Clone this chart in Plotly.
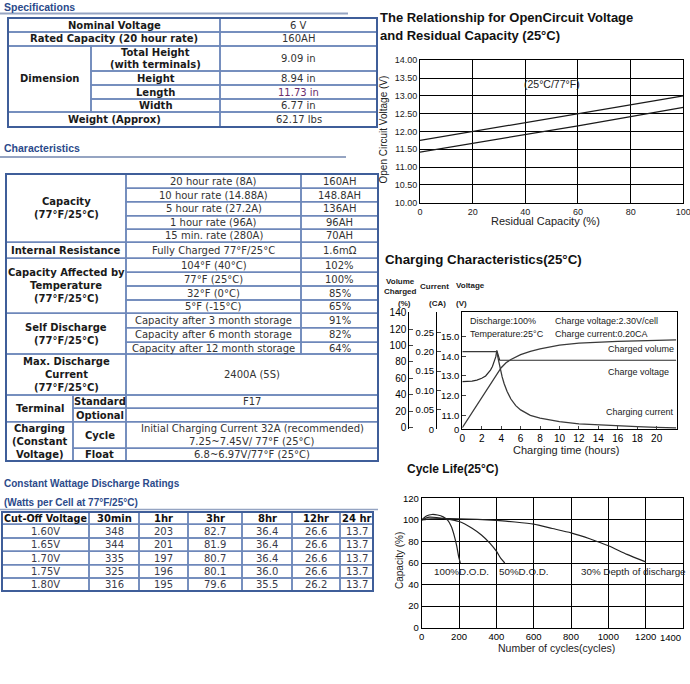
import plotly.graph_objects as go

W, H = 690, 684


def px(x):
    return x / W


def py(y):
    return 1 - y / H


TABLE_FONT = "DejaVu Sans, Verdana, sans-serif"
HEAD_FONT = "Liberation Sans, Arial, sans-serif"
CHART_FONT = "Liberation Sans, Arial, sans-serif"

# ------------------------------------------------------------------ DATA
# Specifications
spec_top_labels = ["Nominal Voltage", "Rated Capacity (20 hour rate)"]
spec_top_values = ["6 V", "160AH"]
dimension_label = "Dimension"
dimension_items = [["Total Height", "(with terminals)"], ["Height"], ["Length"], ["Width"]]
dimension_values = ["9.09 in", "8.94 in", "11.73 in", "6.77 in"]
weight_label = "Weight (Approx)"
weight_value = "62.17 lbs"

# Characteristics
capacity_label = ["Capacity", "(77°F/25°C)"]
capacity_items = ["20 hour rate (8A)", "10 hour rate (14.88A)", "5 hour rate (27.2A)",
                  "1 hour rate (96A)", "15 min. rate (280A)"]
capacity_values = ["160AH", "148.8AH", "136AH", "96AH", "70AH"]
resistance_label = "Internal Resistance"
resistance_item = "Fully Charged 77°F/25°C"
resistance_value = "1.6mΩ"
temperature_label = ["Capacity Affected by", "Temperature", "(77°F/25°C)"]
temperature_items = ["104°F (40°C)", "77°F (25°C)", "32°F (0°C)", "5°F (-15°C)"]
temperature_values = ["102%", "100%", "85%", "65%"]
self_discharge_label = ["Self Discharge", "(77°F/25°C)"]
self_discharge_items = ["Capacity after 3 month storage", "Capacity after 6 month storage",
                        "Capacity after 12 month storage"]
self_discharge_values = ["91%", "82%", "64%"]
max_discharge_label = ["Max. Discharge", "Current", "(77°F/25°C)"]
max_discharge_value = "2400A (5S)"
terminal_label = ["Terminal"]
terminal_items = ["Standard", "Optional"]
terminal_values = [["F17"], []]
charging_label = ["Charging", "(Constant", "Voltage)"]
charging_items = ["Cycle", "Float"]
charging_values = [["Initial Charging Current 32A (recommended)", "7.25~7.45V/ 77°F (25°C)"],
                   ["6.8~6.97V/77°F (25°C)"]]

# Constant wattage discharge ratings (watts per cell)
cw_headers = ["Cut-Off Voltage", "30min", "1hr", "3hr", "8hr", "12hr", "24 hr"]
cw_cutoff = ["1.60V", "1.65V", "1.70V", "1.75V", "1.80V"]
cw_30min = ["348", "344", "335", "325", "316"]
cw_1hr = ["203", "201", "197", "196", "195"]
cw_3hr = ["82.7", "81.9", "80.7", "80.1", "79.6"]
cw_8hr = ["36.4", "36.4", "36.4", "36.0", "35.5"]
cw_12hr = ["26.6", "26.6", "26.6", "26.6", "26.2"]
cw_24hr = ["13.7", "13.7", "13.7", "13.7", "13.7"]

# Open circuit voltage vs residual capacity
ocv_capacity = [0, 20, 40, 60, 80, 100]
ocv_upper = [11.75, 12.0, 12.25, 12.5, 12.75, 13.0]
ocv_lower = [11.42, 11.66, 11.91, 12.16, 12.42, 12.68]

# Charging characteristics
volume_time = [0, 1, 2, 3, 4, 4.5, 5, 6, 7, 8, 9, 10, 12, 14, 16, 18, 20, 22]
volume_pct = [0, 18, 36, 55, 73, 79, 83, 89, 93, 96, 98.5, 100.5, 103, 104.5, 105.2, 105.8, 106.3, 107]
current_time = [0, 3.55, 3.75, 3.9, 4.1, 4.3, 4.6, 5.0, 5.5, 6, 6.5, 7, 8, 9, 10, 12, 14, 16, 18, 20, 22]
current_ca = [0.20, 0.20, 0.175, 0.155, 0.135, 0.118, 0.098, 0.078, 0.061, 0.05, 0.042, 0.036,
              0.029, 0.024, 0.0195, 0.014, 0.011, 0.0085, 0.0068, 0.005, 0.0035]
voltage_time = [0, 0.5, 1, 1.5, 2, 2.4, 2.7, 2.9, 3.1, 3.3, 3.45, 3.55, 3.7, 3.85, 22]
voltage_v = [12.71, 12.72, 12.74, 12.79, 12.88, 13.0, 13.15, 13.3, 13.48, 13.72, 13.98, 14.3, 14.0, 13.8, 13.8]
volt_ticks = [10.29, 11, 12, 13, 14, 15]
volt_ticktext = ["0", "11.0", "12.0", "13.0", "14.0", "15.0"]
ca_ticks = [0, 0.05, 0.10, 0.15, 0.20, 0.25]
ca_ticktext = ["0", "0.05", "0.10", "0.15", "0.20", "0.25"]
vol_ticks = [0, 20, 40, 60, 80, 100, 120, 140]
time_ticks = [0, 2, 4, 6, 8, 10, 12, 14, 16, 18, 20]

# Cycle life
cycle_ticks = [0, 200, 400, 600, 800, 1000, 1200]
cycle_max = 1400
dod100_cycles = [0, 25, 55, 85, 115, 140, 158, 175, 188, 198, 207]
dod100_cap = [100, 103.5, 105, 104.5, 102.8, 99.5, 94, 85, 75.5, 66, 60]
dod50_cycles = [0, 40, 80, 130, 200, 270, 320, 365, 400, 425, 445]
dod50_cap = [100, 102.5, 102.2, 101, 98.5, 92.3, 86, 78.5, 71, 64, 60]
dod30_cycles = [0, 50, 100, 200, 300, 400, 500, 600, 700, 800, 900, 1000, 1100, 1200]
dod30_cap = [100, 101, 101.2, 101, 100.5, 99.5, 98, 96, 92, 88, 82.5, 76, 68, 61]

# ------------------------------------------------------------------ helpers
shapes = []
annotations = []
BORDER = "#6E88BA"
OUTER = "#3F5E99"
TXT = "#333333"
BOLD_TXT = "#1a1a1a"
HEAD_BLUE = "#2B4A8A"


def cell(x0, y0, x1, y1, color=BORDER, width=1.5):
    shapes.append(dict(type="rect", xref="paper", yref="paper",
                       x0=px(x0), x1=px(x1), y0=py(y1), y1=py(y0),
                       line=dict(color=color, width=width)))


def hline(x0, x1, y, color, width):
    shapes.append(dict(type="line", xref="paper", yref="paper",
                       x0=px(x0), x1=px(x1), y0=py(y), y1=py(y),
                       line=dict(color=color, width=width)))


def txt(x, y, s, size=10, color=TXT, bold=False, family=TABLE_FONT, xanchor="center", angle=0):
    if not s:
        return
    annotations.append(dict(x=px(x), y=py(y), xref="paper", yref="paper",
                            text=("<b>%s</b>" % s) if bold else s, showarrow=False,
                            font=dict(family=family, size=size, color=color),
                            xanchor=xanchor, yanchor="middle", textangle=angle))


def lines(x, yc, parts, lh=13, **kw):
    n = len(parts)
    for i, s in enumerate(parts):
        txt(x, yc + (i - (n - 1) / 2) * lh, s, **kw)


# ------------------------------------------------------------------ Specifications table
txt(2, 6.5, "Specifications", size=10.5, color=HEAD_BLUE, bold=True, family=HEAD_FONT, xanchor="left")
hline(0, 348, 13.5, "#95A4C2", 2)

sL, sS, sM, sR = 8, 91, 220, 377
spec_rows = [18, 32, 46, 71, 85, 99, 112, 127]
for i in range(2):
    y0, y1 = spec_rows[i], spec_rows[i + 1]
    cell(sL, y0, sM, y1)
    cell(sM, y0, sR, y1)
    txt((sL + sM) / 2, (y0 + y1) / 2, spec_top_labels[i], bold=True, color=BOLD_TXT)
    txt((sM + sR) / 2, (y0 + y1) / 2, spec_top_values[i])
cell(sL, spec_rows[2], sS, spec_rows[6])
txt((sL + sS) / 2, (spec_rows[2] + spec_rows[6]) / 2, dimension_label, bold=True, color=BOLD_TXT)
for k in range(4):
    y0, y1 = spec_rows[2 + k], spec_rows[3 + k]
    cell(sS, y0, sM, y1)
    cell(sM, y0, sR, y1)
    lines((sS + sM) / 2, (y0 + y1) / 2, dimension_items[k], lh=11.7, bold=True, color=BOLD_TXT)
    txt((sM + sR) / 2, (y0 + y1) / 2, dimension_values[k],
        color="#6B2C6B" if k == 2 else TXT)
cell(sL, spec_rows[6], sM, spec_rows[7])
cell(sM, spec_rows[6], sR, spec_rows[7])
txt((sL + sM) / 2, (spec_rows[6] + spec_rows[7]) / 2, weight_label, bold=True, color=BOLD_TXT)
txt((sM + sR) / 2, (spec_rows[6] + spec_rows[7]) / 2, weight_value)
cell(sL, spec_rows[0], sR, spec_rows[-1], color=OUTER, width=2)

# ------------------------------------------------------------------ Characteristics table
txt(2, 147.5, "Characteristics", size=10.5, color=HEAD_BLUE, bold=True, family=HEAD_FONT, xanchor="left")
hline(0, 346, 157, "#95A4C2", 2)

cL, cS, c1, c2, cR = 6, 73, 126, 301, 378
cr = [174, 188.3, 201.7, 215.7, 229.3, 242.3, 258.3, 272.3, 286, 300, 313.3,
      327.7, 342.3, 354, 395, 408.3, 421.7, 448.3, 461]


def group3(r0, label_parts, items, values):
    n = len(items)
    cell(cL, cr[r0], c1, cr[r0 + n])
    lines((cL + c1) / 2, (cr[r0] + cr[r0 + n]) / 2, label_parts, bold=True, color=BOLD_TXT)
    for k in range(n):
        y0, y1 = cr[r0 + k], cr[r0 + k + 1]
        cell(c1, y0, c2, y1)
        cell(c2, y0, cR, y1)
        txt((c1 + c2) / 2, (y0 + y1) / 2, items[k])
        txt((c2 + cR) / 2, (y0 + y1) / 2, values[k])


group3(0, capacity_label, capacity_items, capacity_values)
group3(5, [resistance_label], [resistance_item], [resistance_value])
group3(6, temperature_label, temperature_items, temperature_values)
group3(10, self_discharge_label, self_discharge_items, self_discharge_values)

# max discharge
cell(cL, cr[13], c1, cr[14])
cell(c1, cr[13], cR, cr[14])
lines((cL + c1) / 2, (cr[13] + cr[14]) / 2, max_discharge_label, lh=12.8, bold=True, color=BOLD_TXT)
txt((c1 + cR) / 2, (cr[13] + cr[14]) / 2, max_discharge_value)


def group_sub(r0, label_parts, items, values):
    n = len(items)
    cell(cL, cr[r0], cS, cr[r0 + n])
    lines((cL + cS) / 2, (cr[r0] + cr[r0 + n]) / 2, label_parts, lh=12.8, bold=True, color=BOLD_TXT)
    for k in range(n):
        y0, y1 = cr[r0 + k], cr[r0 + k + 1]
        cell(cS, y0, c1, y1)
        cell(c1, y0, cR, y1)
        txt((cS + c1) / 2, (y0 + y1) / 2, items[k], bold=True, color=BOLD_TXT)
        lines((c1 + cR) / 2, (y0 + y1) / 2, values[k], lh=12.4)


group_sub(14, terminal_label, terminal_items, terminal_values)
group_sub(16, charging_label, charging_items, charging_values)
cell(cL, cr[0], cR, cr[-1], color=OUTER, width=2)

# ------------------------------------------------------------------ Constant wattage table
txt(2, 483, "Constant Wattage Discharge Ratings", size=10, color=HEAD_BLUE, bold=True,
    family=HEAD_FONT, xanchor="left")
txt(2, 502.5, "(Watts per Cell at 77°F/25°C)", size=10, color=HEAD_BLUE, bold=True,
    family=HEAD_FONT, xanchor="left")
hline(0, 378, 509.5, "#95A4C2", 1.5)

cwx = [2, 89, 139, 188, 242, 292, 340, 373]
cwy = [512, 524.3, 538, 551.3, 564.7, 578, 591]
cw_columns = [cw_cutoff, cw_30min, cw_1hr, cw_3hr, cw_8hr, cw_12hr, cw_24hr]
for j, head in enumerate(cw_headers):
    cell(cwx[j], cwy[0], cwx[j + 1], cwy[1])
    txt((cwx[j] + cwx[j + 1]) / 2, (cwy[0] + cwy[1]) / 2, head, bold=True, color="#111111",
        size=9.6 if j == 0 else 10)
    for i in range(len(cw_cutoff)):
        cell(cwx[j], cwy[i + 1], cwx[j + 1], cwy[i + 2])
        txt((cwx[j] + cwx[j + 1]) / 2, (cwy[i + 1] + cwy[i + 2]) / 2, cw_columns[j][i], color="#3a3a4a")
cell(cwx[0], cwy[0], cwx[-1], cwy[-1], color=OUTER, width=2)

# ------------------------------------------------------------------ Charts
fig = go.Figure()
LINE = dict(color="#1a1a1a", width=1.2)

# OCV chart
fig.add_trace(go.Scatter(x=ocv_capacity, y=ocv_upper, mode="lines", line=LINE, xaxis="x", yaxis="y"))
fig.add_trace(go.Scatter(x=ocv_capacity, y=ocv_lower, mode="lines", line=LINE, xaxis="x", yaxis="y"))

# Charging chart
fig.add_trace(go.Scatter(x=voltage_time, y=voltage_v, mode="lines", line=dict(color="#2a2a2a", width=1.2),
                         xaxis="x2", yaxis="y2"))
fig.add_trace(go.Scatter(x=current_time, y=current_ca, mode="lines", line=dict(color="#3a3a3a", width=1.3),
                         xaxis="x2", yaxis="y3"))
fig.add_trace(go.Scatter(x=volume_time, y=volume_pct, mode="lines", line=dict(color="#3a3a3a", width=1.3),
                         xaxis="x2", yaxis="y4"))

# Cycle life chart
for cx, cy in [(dod100_cycles, dod100_cap), (dod50_cycles, dod50_cap), (dod30_cycles, dod30_cap)]:
    fig.add_trace(go.Scatter(x=cx, y=cy, mode="lines", line=dict(color="#222222", width=1.2, shape="spline",
                                                                   smoothing=0.6),
                             xaxis="x3", yaxis="y5"))

tick_font = dict(family=CHART_FONT, size=9, color="#1a1a1a")
grid_axis = dict(showgrid=True, gridcolor="black", gridwidth=1, showline=True, linecolor="black",
                 linewidth=1, mirror=True, ticks="", zeroline=False, automargin=False, fixedrange=True)
plain_axis = dict(showgrid=False, zeroline=False, automargin=False, fixedrange=True,
                  showline=True, linecolor="black", linewidth=1)

CYC_TICK_FONT = dict(family=CHART_FONT, size=9.5, color="#000")
fig.update_layout(
    width=W, height=684, margin=dict(l=0, r=0, t=0, b=0),
    paper_bgcolor="white", plot_bgcolor="white", showlegend=False,
    xaxis=dict(domain=[px(420), px(683.3)], anchor="y", range=[0, 100], dtick=20,
               tickfont=tick_font, ticklabeloverflow="allow", **grid_axis),
    yaxis=dict(domain=[py(202.7), py(60.3)], anchor="x", range=[10, 14], dtick=0.5,
               tickformat=".2f", tickfont=tick_font, **grid_axis),
    xaxis2=dict(domain=[px(462.3), px(676.7)], anchor="y2", range=[0, 22.06], tickvals=time_ticks,
                ticks="inside", ticklen=3, mirror=True, tickfont=dict(family=CHART_FONT, size=10, color="#000"),
                **plain_axis),
    yaxis2=dict(domain=[py(429.3), py(311.7)], anchor="x2", range=[10.285, 16.27], tickvals=volt_ticks,
                ticktext=volt_ticktext, ticks="inside", ticklen=4, mirror=True,
                tickfont=dict(family=CHART_FONT, size=9.5, color="#000"), **plain_axis),
    yaxis3=dict(overlaying="y2", anchor="free", position=px(436), side="left", range=[0, 0.303],
                tickvals=ca_ticks, ticktext=ca_ticktext, ticks="inside", ticklen=4,
                tickfont=dict(family=CHART_FONT, size=9.5, color="#000"), **plain_axis),
    yaxis4=dict(overlaying="y2", anchor="free", position=px(408.3), side="left", range=[-1.9, 141.2],
                tickvals=vol_ticks, ticks="inside", ticklen=4,
                tickfont=dict(family=CHART_FONT, size=10, color="#000"), **plain_axis),
    xaxis3=dict(domain=[px(421.7), px(683)], anchor="y5", range=[0, cycle_max], tickvals=cycle_ticks,
                tickfont=CYC_TICK_FONT, **grid_axis),
    yaxis5=dict(domain=[py(627.7), py(498.3)], anchor="x3", range=[0, 120], dtick=20,
                tickfont=CYC_TICK_FONT, **grid_axis),
)

# end label of the cycle axis, kept inside the page (right-aligned at the axis end)
annotations.append(dict(x=cycle_max, xref="x3", y=py(637), yref="paper", text=str(cycle_max),
                        showarrow=False, xanchor="right", yanchor="middle", font=CYC_TICK_FONT))

# chart titles and texts
TITLE_KW = dict(size=13, color="#111111", bold=True, family=CHART_FONT, xanchor="left")
txt(378, 17.5, "The Relationship for OpenCircuit Voltage", **TITLE_KW)
txt(378, 35, "and Residual Capacity (25°C)", **TITLE_KW)
txt(383, 260, "Charging Characteristics(25°C)", size=13.3, color="#111111", bold=True,
    family=CHART_FONT, xanchor="left")
txt(405, 469, "Cycle Life(25°C)", size=12, color="#111111", bold=True, family=CHART_FONT,
    xanchor="left")

# OCV chart texts
txt(545, 221, "Residual Capacity (%)", size=11, color="#222", family=CHART_FONT)
txt(383.5, 130, "Open Circuit Voltage (V)", size=10, color="#222", family=CHART_FONT, angle=-90)
txt(551.5, 83.5, "(25°C/77°F)", size=10.5, color="#222", family=CHART_FONT)

# Charging chart texts
SMALL_BOLD = dict(size=8, color="#222", bold=True, family=CHART_FONT)
txt(400.8, 281, "Volume", **SMALL_BOLD)
txt(400.8, 291, "Charged", **SMALL_BOLD)
txt(434, 286, "Current", **SMALL_BOLD)
txt(470.5, 285, "Voltage", **SMALL_BOLD)
txt(404, 303.5, "(%)", **SMALL_BOLD)
txt(437.5, 303.5, "(CA)", **SMALL_BOLD)
txt(461, 303.5, "(V)", **SMALL_BOLD)
BOX_KW = dict(size=9, color="#1a1a1a", family=CHART_FONT, xanchor="left")
txt(468.3, 321, "Discharge:100%", **BOX_KW)
txt(468.3, 333.5, "Temperature:25°C", **BOX_KW)
txt(552.7, 321, "Charge voltage:2.30V/cell", **BOX_KW)
txt(552.7, 333.5, "Charge current:0.20CA", **BOX_KW)
txt(606, 349, "Charged volume", **BOX_KW)
txt(606, 372, "Charge voltage", **BOX_KW)
txt(604.3, 411.7, "Charging current", **BOX_KW)
txt(565.5, 449.5, "Charging time (hours)", size=11, color="#222", family=CHART_FONT)

# Cycle life texts
LAB_KW = dict(size=9.8, color="#222", family=CHART_FONT, xanchor="left")
txt(432, 571, "100%D.O.D.", **LAB_KW)
txt(497, 571, "50%D.O.D.", **LAB_KW)
txt(579, 571, "30% Depth of discharge", **LAB_KW)
txt(556, 647.5, "Number of cycles(cycles)", size=10.5, color="#222", family=CHART_FONT)
txt(399, 561, "Capacity (%)", size=10, color="#222", family=CHART_FONT, angle=-90)

fig.update_layout(shapes=shapes, annotations=annotations)
fig.write_html("out.html", config={"displayModeBar": False, "staticPlot": True},
               post_script="document.body.style.margin='0';document.body.style.overflow='hidden';")
